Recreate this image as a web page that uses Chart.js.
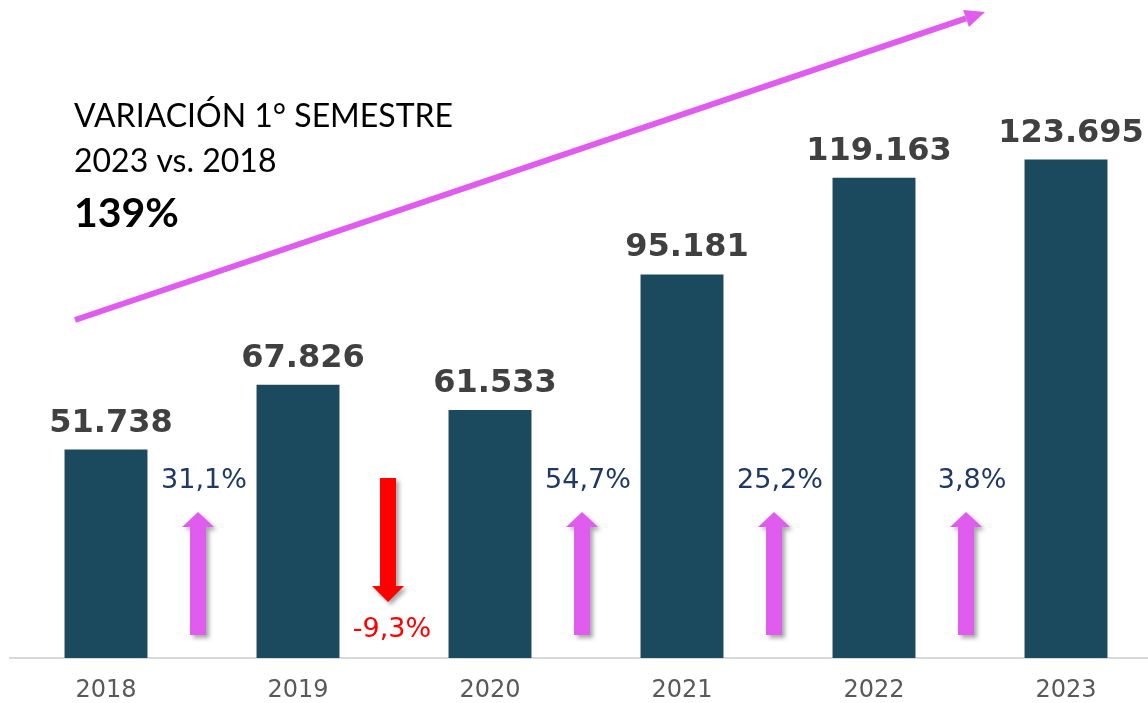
<!DOCTYPE html>
<html>
<head>
<meta charset="utf-8">
<script src="https://cdn.jsdelivr.net/npm/chart.js@4.4.1/dist/chart.umd.min.js"></script>
<style>
html,body{margin:0;padding:0;background:#fff;width:1148px;height:703px;overflow:hidden;}
#wrap{position:relative;width:1162px;height:703px;}
</style>
</head>
<body>
<div id="wrap"><canvas id="c" width="1162" height="703"></canvas></div>
<script>
// ---- data ----
const categories = ['2018', '2019', '2020', '2021', '2022', '2023'];
const values = [51738, 67826, 61533, 95181, 119163, 123695];
const changeLabels = ['31,1%', '-9,3%', '54,7%', '25,2%', '3,8%'];
const changeUp = [true, false, true, true, true];
const titleLines = ['VARIACIÓN 1° SEMESTRE', '2023 vs. 2018'];
const titleValue = '139%';

function fmt(v) {
  return String(v).replace(/\B(?=(\d{3})+(?!\d))/g, '.');
}

const BAR = '#1B4A5E';
const MAG = '#E05CEE';
const NAVY = '#203864';

function upArrow(ctx, cx, top, bottom, color) {
  const sw = 16, hw = 32, hh = 15;
  ctx.beginPath();
  ctx.moveTo(cx, top);
  ctx.lineTo(cx + hw / 2, top + hh);
  ctx.lineTo(cx + sw / 2, top + hh);
  ctx.lineTo(cx + sw / 2, bottom);
  ctx.lineTo(cx - sw / 2, bottom);
  ctx.lineTo(cx - sw / 2, top + hh);
  ctx.lineTo(cx - hw / 2, top + hh);
  ctx.closePath();
  ctx.fillStyle = color;
  ctx.fill();
}
function downArrow(ctx, cx, top, bottom, color) {
  const sw = 16, hw = 32, hh = 16;
  ctx.beginPath();
  ctx.moveTo(cx, bottom);
  ctx.lineTo(cx + hw / 2, bottom - hh);
  ctx.lineTo(cx + sw / 2, bottom - hh);
  ctx.lineTo(cx + sw / 2, top);
  ctx.lineTo(cx - sw / 2, top);
  ctx.lineTo(cx - sw / 2, bottom - hh);
  ctx.lineTo(cx - hw / 2, bottom - hh);
  ctx.closePath();
  ctx.fillStyle = color;
  ctx.fill();
}

const annot = {
  id: 'annot',
  afterDatasetsDraw(chart) {
    const ctx = chart.ctx;
    const xs = chart.scales.x;
    const meta = chart.getDatasetMeta(0);
    const bottom = chart.chartArea.bottom;
    ctx.save();
    // bar value labels
    ctx.font = 'bold 32px "DejaVu Sans"';
    ctx.fillStyle = '#404040';
    ctx.textAlign = 'center';
    ctx.textBaseline = 'alphabetic';
    meta.data.forEach((bar, i) => {
      ctx.fillText(fmt(values[i]), bar.x + 5, bar.y - 18);
    });
    // change arrows + labels
    for (let i = 0; i < changeLabels.length; i++) {
      const mid = (xs.getPixelForValue(i) + xs.getPixelForValue(i + 1)) / 2;
      ctx.save();
      ctx.shadowColor = 'rgba(0,0,0,0.35)';
      ctx.shadowBlur = 4;
      ctx.shadowOffsetX = 3;
      ctx.shadowOffsetY = 3;
      if (changeUp[i]) {
        upArrow(ctx, mid - 4, bottom - 146, bottom - 23, MAG);
      } else {
        downArrow(ctx, mid - 6, bottom - 180, bottom - 56, '#FF0000');
      }
      ctx.restore();
      ctx.font = '27px "DejaVu Sans"';
      ctx.textAlign = 'center';
      ctx.textBaseline = 'middle';
      if (changeUp[i]) {
        ctx.fillStyle = NAVY;
        ctx.fillText(changeLabels[i], mid + 2, bottom - 177);
      } else {
        ctx.fillStyle = '#FF0000';
        ctx.fillText(changeLabels[i], mid - 2, bottom - 28);
      }
    }
    // big trend arrow
    const x0 = 75, y0 = 320, x1 = 985, y1 = 12;
    const ang = Math.atan2(y1 - y0, x1 - x0);
    const hl = 20, hwid = 9;
    const bx = x1 - hl * Math.cos(ang), by = y1 - hl * Math.sin(ang);
    ctx.strokeStyle = MAG;
    ctx.lineWidth = 6;
    ctx.beginPath();
    ctx.moveTo(x0, y0);
    ctx.lineTo(bx, by);
    ctx.stroke();
    ctx.fillStyle = MAG;
    ctx.beginPath();
    ctx.moveTo(x1, y1);
    ctx.lineTo(bx + hwid * Math.sin(ang), by - hwid * Math.cos(ang));
    ctx.lineTo(bx - hwid * Math.sin(ang), by + hwid * Math.cos(ang));
    ctx.closePath();
    ctx.fill();
    // title text
    ctx.fillStyle = '#000';
    ctx.textAlign = 'left';
    ctx.textBaseline = 'alphabetic';
    ctx.font = '32px Lato';
    ctx.fillText(titleLines[0], 74, 127);
    ctx.fillText(titleLines[1], 74, 172);
    ctx.font = 'bold 41px Lato';
    ctx.fillText(titleValue, 74, 227);
    ctx.restore();
  }
};

new Chart(document.getElementById('c'), {
  type: 'bar',
  data: {
    labels: categories,
    datasets: [{
      data: values,
      backgroundColor: BAR,
      borderWidth: 0,
      barPercentage: 0.432,
      categoryPercentage: 1.0
    }]
  },
  options: {
    responsive: false,
    animation: false,
    layout: { padding: { left: 10, right: 0, top: 0, bottom: 0 } },
    plugins: { legend: { display: false }, tooltip: { enabled: false } },
    scales: {
      x: {
        afterFit(scale) { scale.height = 45; },
        grid: { display: false, drawTicks: false },
        border: { display: true, color: '#D9D9D9', width: 2 },
        ticks: { color: '#595959', font: { family: 'DejaVu Sans', size: 24 }, padding: 18, maxRotation: 0 }
      },
      y: {
        display: false,
        min: 0,
        max: 163300
      }
    }
  },
  plugins: [annot]
});
</script>
</body>
</html>
